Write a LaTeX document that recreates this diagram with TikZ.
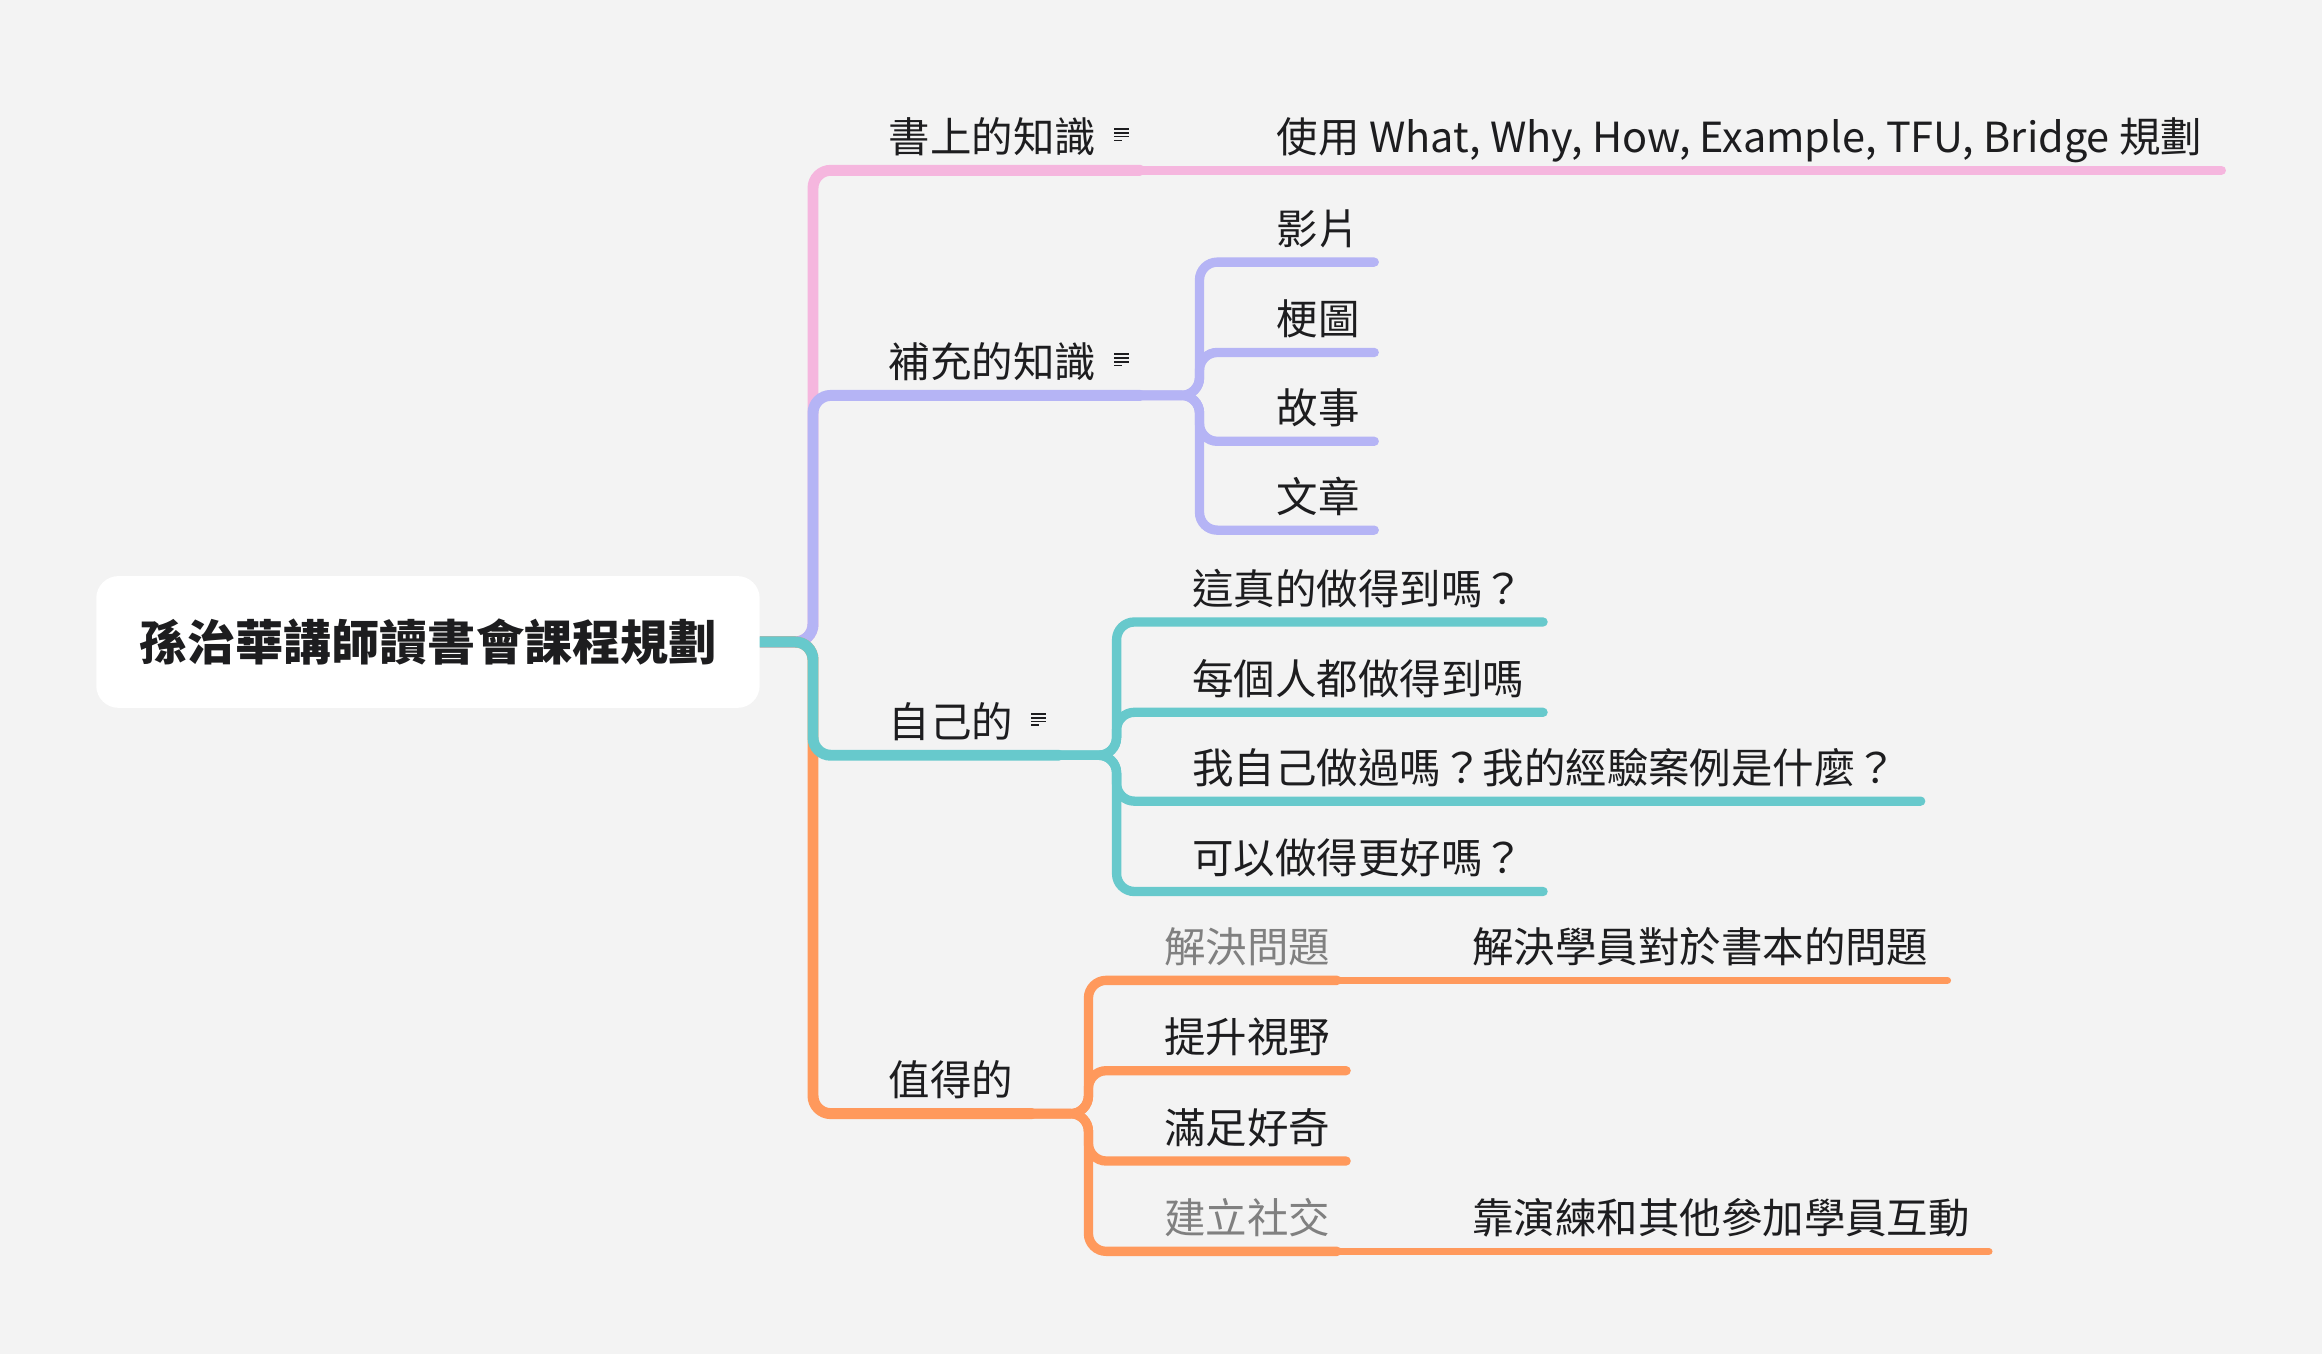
\documentclass[tikz,border=0pt]{standalone}
\usepackage{fontspec}
\usepackage{tikz}
\newfontfamily\cjk{Noto Sans CJK TC}
\definecolor{paper}{RGB}{243,243,243}
\definecolor{ink}{RGB}{29,29,31}
\definecolor{dimink}{RGB}{128,128,128}
\definecolor{lpink}{RGB}{245,182,222}
\definecolor{lpurple}{RGB}{181,180,245}
\definecolor{lteal}{RGB}{103,201,204}
\definecolor{lorange}{RGB}{255,153,92}
\pgfdeclarelayer{bglayer}
\pgfdeclarelayer{edgelayer}
\pgfdeclarelayer{nodelayer}
\pgfsetlayers{bglayer,edgelayer,nodelayer,main}
\tikzstyle{central}=[rectangle,rounded corners=15pt,fill=white,minimum width=448pt,minimum height=89pt,inner sep=0pt,text=ink,font=\cjk\bfseries\fontsize{32.5}{38}\selectfont]
\tikzstyle{topic}=[anchor=base west,inner sep=0pt,text=ink,font=\cjk\fontsize{28}{33}\selectfont]
\tikzstyle{dimtopic}=[topic,text=dimink]
\tikzstyle{branch}=[line width=7.4pt,rounded corners=12pt,line cap=round]
\tikzstyle{twig}=[line width=6.3pt,rounded corners=12pt,line cap=round]
\tikzstyle{leaf}=[line width=5pt,line cap=round]
\tikzstyle{icon}=[line width=1.2pt,draw=ink]
% small note mark after a topic
\newcommand{\noteicon}[1]{%
    \begin{scope}[shift={(#1.base east)}]
        \draw [style = icon] (12,-16) -- (22,-16);
        \draw [style = icon] (12,-13.4) -- (22,-13.4);
        \draw [style = icon] (12,-10.8) -- (22,-10.8);
        \draw [style = icon] (12,-8.2) -- (17,-8.2);
    \end{scope}}

\begin{document}
\begin{tikzpicture}[x=1pt,y=-1pt]
        \useasboundingbox (0,0) rectangle (1568,914);
        \begin{pgfonlayer}{bglayer}
            \fill [paper] (0,0) rectangle (1568,914);
        \end{pgfonlayer}

        \begin{pgfonlayer}{nodelayer}
            \node [style = central] (root) at (289, 433.5) {孫治華講師讀書會課程規劃};

            \node [style = topic] (b1) at (600, 103) {書上的知識};
            \node [style = topic] (c11) at (862, 103) {使用 What, Why, How, Example, TFU, Bridge 規劃};

            \node [style = topic] (b2) at (600, 255) {補充的知識};
            \node [style = topic] (c21) at (862, 165) {影片};
            \node [style = topic] (c22) at (862, 226) {梗圖};
            \node [style = topic] (c23) at (862, 286) {故事};
            \node [style = topic] (c24) at (862, 346) {文章};

            \node [style = topic] (b3) at (600, 498) {自己的};
            \node [style = topic] (c31) at (805, 408) {這真的做得到嗎？};
            \node [style = topic] (c32) at (805, 469) {每個人都做得到嗎};
            \node [style = topic] (c33) at (805, 529) {我自己做過嗎？我的經驗案例是什麼？};
            \node [style = topic] (c34) at (805, 590) {可以做得更好嗎？};

            \node [style = topic] (b4) at (600, 740) {值得的};
            \node [style = dimtopic] (c41) at (786, 650) {解決問題};
            \node [style = topic] (c42) at (786, 711) {提升視野};
            \node [style = topic] (c43) at (786, 772) {滿足好奇};
            \node [style = dimtopic] (c44) at (786, 833) {建立社交};
            \node [style = topic] (d41) at (994, 650) {解決學員對於書本的問題};
            \node [style = topic] (d44) at (994, 833) {靠演練和其他參加學員互動};

            \noteicon{b1}
            \noteicon{b2}
            \noteicon{b3}
        \end{pgfonlayer}

        \begin{pgfonlayer}{edgelayer}
            \coordinate (hub) at (549, 433.5);
            \coordinate (b1e) at (770, 115);
            \coordinate (b2e) at (770, 267);
            \coordinate (b3e) at (715, 510);
            \coordinate (b4e) at (697, 752);
            \coordinate (c11e) at (1500, 115);
            \coordinate (k2) at (810, 267);
            \coordinate (c21e) at (928, 177);
            \coordinate (c22e) at (928, 238);
            \coordinate (c23e) at (928, 298);
            \coordinate (c24e) at (928, 358);
            \coordinate (k3) at (754, 510);
            \coordinate (c31e) at (1042, 420);
            \coordinate (c32e) at (1042, 481);
            \coordinate (c33e) at (1297, 541);
            \coordinate (c34e) at (1042, 602);
            \coordinate (k4) at (735, 752);
            \coordinate (c41e) at (903, 662);
            \coordinate (c42e) at (909, 723);
            \coordinate (c43e) at (909, 784);
            \coordinate (c44e) at (903, 845);
            \coordinate (d41e) at (1315, 662);
            \coordinate (d44e) at (1343, 845);

            \draw [style = branch, draw = lpink] (root.east) -- (hub) |- (b1e);
            \draw [style = twig, draw = lpink] (b1e) -- (c11e);

            \draw [style = branch, draw = lpurple] (root.east) -- (hub) |- (b2e);
            \draw [style = twig, draw = lpurple] (b2e) -- (k2) |- (c21e);
            \draw [style = twig, draw = lpurple] (b2e) -- (k2) |- (c22e);
            \draw [style = twig, draw = lpurple] (b2e) -- (k2) |- (c23e);
            \draw [style = twig, draw = lpurple] (b2e) -- (k2) |- (c24e);

            \draw [style = branch, draw = lorange] (root.east) -- (hub) |- (b4e);
            \draw [style = twig, draw = lorange] (b4e) -- (k4) |- (c41e);
            \draw [style = twig, draw = lorange] (b4e) -- (k4) |- (c42e);
            \draw [style = twig, draw = lorange] (b4e) -- (k4) |- (c43e);
            \draw [style = twig, draw = lorange] (b4e) -- (k4) |- (c44e);
            \draw [style = leaf, draw = lorange] (c41e) -- (d41e);
            \draw [style = leaf, draw = lorange] (c44e) -- (d44e);

            \draw [style = branch, draw = lteal] (root.east) -- (hub) |- (b3e);
            \draw [style = twig, draw = lteal] (b3e) -- (k3) |- (c31e);
            \draw [style = twig, draw = lteal] (b3e) -- (k3) |- (c32e);
            \draw [style = twig, draw = lteal] (b3e) -- (k3) |- (c33e);
            \draw [style = twig, draw = lteal] (b3e) -- (k3) |- (c34e);
        \end{pgfonlayer}
    \end{tikzpicture}
\end{document}
